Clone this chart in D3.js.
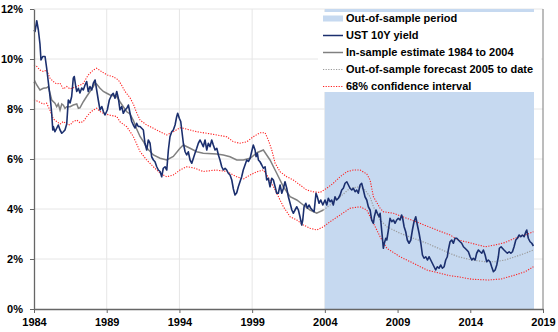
<!DOCTYPE html>
<html>
<head>
<meta charset="utf-8">
<script src="https://cdn.jsdelivr.net/npm/d3@7"></script>
<style>
  body { margin: 0; background: #fff; }
  svg text { font-family: "Liberation Sans", Arial, sans-serif; font-weight: bold; fill: #000; }
  .axis path, .axis line { stroke: #666; }
  .grid line { stroke: #e6e6e6; }
</style>
</head>
<body>
<div id="chart"></div>
<script>
// UST 10Y yield, [year, %]
var ust10y = [
  [1984.00, 11.16], [1984.07, 11.10], [1984.19, 11.53], [1984.30, 11.16], [1984.41, 10.60], [1984.48, 9.96],
  [1984.60, 10.10], [1984.76, 10.10], [1984.87, 9.64], [1984.98, 9.10], [1985.05, 8.76], [1985.15, 8.24],
  [1985.22, 7.80], [1985.29, 7.16], [1985.33, 7.30], [1985.44, 7.09], [1985.56, 7.23], [1985.67, 7.36],
  [1985.79, 7.16], [1985.91, 7.03], [1986.02, 7.09], [1986.13, 7.16], [1986.25, 7.40], [1986.36, 8.36],
  [1986.48, 8.24], [1986.59, 8.50], [1986.70, 9.23], [1986.77, 9.30], [1986.87, 8.90], [1986.94, 8.70],
  [1987.05, 8.83], [1987.16, 8.64], [1987.28, 8.84], [1987.39, 8.76], [1987.51, 8.96], [1987.62, 9.10],
  [1987.73, 8.70], [1987.85, 8.90], [1987.97, 8.76], [1988.08, 9.03], [1988.20, 9.16], [1988.31, 8.76],
  [1988.42, 8.36], [1988.54, 7.96], [1988.66, 8.10], [1988.77, 7.90], [1988.88, 7.76], [1989.04, 7.96],
  [1989.18, 8.36], [1989.34, 8.56], [1989.45, 8.63], [1989.57, 8.43], [1989.69, 8.70], [1989.80, 8.43],
  [1989.91, 7.96], [1990.03, 8.10], [1990.14, 7.83], [1990.26, 7.96], [1990.38, 8.03], [1990.49, 8.16],
  [1990.60, 7.84], [1990.72, 7.50], [1990.83, 7.36], [1990.95, 7.24], [1991.06, 7.43], [1991.17, 7.30],
  [1991.29, 7.30], [1991.52, 7.16], [1991.63, 6.63], [1991.75, 6.36], [1991.86, 6.76], [1991.98, 6.63],
  [1992.09, 6.09], [1992.21, 5.96], [1992.32, 5.89], [1992.44, 5.69], [1992.55, 5.56], [1992.67, 5.50],
  [1992.78, 5.29], [1992.89, 5.63], [1993.01, 5.69], [1993.13, 5.56], [1993.24, 6.36], [1993.35, 6.89],
  [1993.47, 7.09], [1993.58, 7.16], [1993.70, 7.36], [1993.81, 7.69], [1993.88, 7.83], [1993.99, 7.63],
  [1994.09, 7.50], [1994.16, 7.16], [1994.27, 6.63], [1994.39, 6.29], [1994.50, 6.16], [1994.61, 6.29],
  [1994.73, 5.96], [1994.85, 5.83], [1994.96, 6.03], [1995.07, 6.23], [1995.19, 6.43], [1995.30, 6.63],
  [1995.42, 6.76], [1995.53, 6.63], [1995.64, 6.49], [1995.76, 6.76], [1995.88, 6.36], [1995.99, 6.63],
  [1996.10, 6.49], [1996.22, 6.76], [1996.33, 6.56], [1996.45, 6.36], [1996.57, 6.43], [1996.68, 6.16],
  [1996.79, 5.96], [1996.91, 5.69], [1997.02, 5.56], [1997.14, 5.63], [1997.25, 5.56], [1997.36, 5.43],
  [1997.48, 5.36], [1997.60, 5.16], [1997.71, 4.80], [1997.82, 4.56], [1997.94, 4.65], [1998.05, 4.89],
  [1998.28, 5.29], [1998.39, 5.56], [1998.51, 5.76], [1998.63, 5.96], [1998.74, 5.90], [1998.86, 6.03],
  [1998.97, 6.30], [1999.08, 6.56], [1999.20, 6.36], [1999.27, 6.09], [1999.36, 6.23], [1999.43, 5.96],
  [1999.54, 5.89], [1999.66, 5.76], [1999.77, 5.63], [1999.89, 5.69], [2000.00, 5.16], [2000.11, 5.23],
  [2000.23, 4.89], [2000.35, 5.23], [2000.46, 5.16], [2000.58, 4.89], [2000.69, 4.63], [2000.80, 4.63],
  [2000.92, 4.96], [2001.04, 4.63], [2001.15, 4.83], [2001.26, 5.09], [2001.38, 4.83], [2001.49, 4.49],
  [2001.61, 4.23], [2001.73, 3.96], [2001.83, 3.83], [2001.95, 3.96], [2002.07, 4.09], [2002.18, 3.96],
  [2002.29, 3.69], [2002.41, 3.36], [2002.48, 3.56], [2002.57, 4.09], [2002.69, 4.23], [2002.80, 4.03],
  [2002.91, 4.16], [2003.03, 4.03], [2003.14, 3.96], [2003.26, 3.89], [2003.33, 4.29], [2003.39, 4.63],
  [2003.48, 4.49], [2003.60, 4.23], [2003.72, 4.36], [2003.86, 4.16], [2004.01, 4.36], [2004.13, 4.16],
  [2004.24, 4.43], [2004.36, 4.29], [2004.47, 4.36], [2004.58, 4.16], [2004.70, 4.49], [2004.81, 4.36],
  [2004.93, 4.43], [2005.05, 4.56], [2005.16, 4.76], [2005.27, 4.83], [2005.39, 5.03], [2005.51, 5.09],
  [2005.62, 4.96], [2005.73, 4.83], [2005.85, 4.76], [2005.96, 4.83], [2006.08, 4.69], [2006.19, 4.76],
  [2006.30, 4.63], [2006.42, 4.96], [2006.53, 5.03], [2006.65, 4.76], [2006.76, 4.49], [2006.88, 4.36],
  [2006.99, 4.09], [2007.11, 3.96], [2007.22, 3.56], [2007.34, 3.43], [2007.40, 3.69], [2007.52, 3.96],
  [2007.61, 3.83], [2007.73, 3.69], [2007.80, 3.83], [2007.86, 3.43], [2007.95, 2.89], [2008.02, 2.43],
  [2008.09, 2.63], [2008.19, 2.83], [2008.26, 2.76], [2008.37, 3.16], [2008.48, 3.63], [2008.60, 3.49],
  [2008.71, 3.56], [2008.83, 3.43], [2008.94, 3.56], [2009.05, 3.63], [2009.17, 3.56], [2009.28, 3.76],
  [2009.35, 3.63], [2009.45, 3.29], [2009.56, 3.09], [2009.67, 2.76], [2009.79, 2.63], [2009.91, 2.76],
  [2010.02, 3.16], [2010.13, 3.49], [2010.25, 3.69], [2010.36, 3.36], [2010.48, 3.03], [2010.60, 2.63],
  [2010.71, 2.16], [2010.82, 2.03], [2010.94, 2.09], [2011.05, 1.96], [2011.17, 2.09], [2011.28, 1.96],
  [2011.39, 1.83], [2011.51, 1.69], [2011.62, 1.56], [2011.73, 1.69], [2011.85, 1.63], [2011.97, 1.76],
  [2012.08, 1.63], [2012.20, 1.69], [2012.31, 1.96], [2012.42, 2.09], [2012.49, 2.36], [2012.61, 2.69],
  [2012.72, 2.76], [2012.84, 2.63], [2012.95, 2.83], [2013.07, 2.83], [2013.18, 2.76], [2013.30, 2.69],
  [2013.41, 2.63], [2013.53, 2.49], [2013.64, 2.43], [2013.76, 2.36], [2013.87, 2.29], [2013.99, 2.09],
  [2014.10, 1.96], [2014.21, 2.03], [2014.33, 1.96], [2014.44, 2.23], [2014.56, 2.36], [2014.68, 2.29],
  [2014.79, 2.23], [2014.90, 2.36], [2015.02, 2.16], [2015.13, 1.89], [2015.24, 1.96], [2015.36, 1.89],
  [2015.47, 1.69], [2015.59, 1.49], [2015.71, 1.56], [2015.82, 1.76], [2015.93, 2.09], [2016.00, 2.43],
  [2016.12, 2.49], [2016.21, 2.43], [2016.32, 2.36], [2016.44, 2.29], [2016.55, 2.23], [2016.67, 2.29],
  [2016.79, 2.23], [2016.90, 2.29], [2017.01, 2.49], [2017.13, 2.76], [2017.24, 2.83], [2017.36, 2.96],
  [2017.47, 2.89], [2017.58, 2.96], [2017.70, 2.89], [2017.82, 3.09], [2017.88, 3.16], [2017.99, 2.83],
  [2018.11, 2.69], [2018.23, 2.63], [2018.34, 2.52]
];

// in-sample model estimate 1984-2004
var inSample = [
  [1984.00, 9.03], [1984.07, 9.10], [1984.19, 8.96], [1984.41, 8.76], [1984.64, 8.83], [1984.87, 8.85],
  [1984.98, 8.90], [1985.10, 8.63], [1985.22, 8.36], [1985.44, 8.23], [1985.56, 8.09], [1985.67, 8.20],
  [1985.79, 7.96], [1985.91, 8.20], [1986.02, 8.15], [1986.13, 8.03], [1986.25, 8.09], [1986.48, 8.09],
  [1986.70, 8.16], [1986.94, 8.20], [1987.05, 8.03], [1987.16, 8.05], [1987.39, 8.29], [1987.62, 8.50],
  [1987.85, 8.70], [1988.08, 8.90], [1988.20, 9.03], [1988.31, 9.00], [1988.54, 8.83], [1988.77, 8.70],
  [1989.00, 8.63], [1989.23, 8.56], [1989.45, 8.53], [1989.69, 8.50], [1989.91, 8.29], [1990.14, 8.09],
  [1990.38, 7.89], [1990.60, 7.80], [1990.83, 7.55], [1991.06, 7.20], [1991.29, 6.90], [1991.52, 6.70],
  [1991.75, 6.45], [1992.21, 6.16], [1992.67, 6.03], [1993.13, 5.96], [1993.58, 6.10], [1994.04, 6.43],
  [1994.27, 6.56], [1994.73, 6.43], [1995.19, 6.29], [1995.64, 6.23], [1996.57, 6.20], [1997.02, 6.16],
  [1997.48, 6.09], [1997.94, 5.96], [1998.39, 5.96], [1998.86, 6.03], [1999.32, 6.25], [1999.77, 6.36],
  [2000.23, 5.96], [2000.69, 5.43], [2001.15, 4.89], [2001.61, 4.49], [2002.07, 4.36], [2002.52, 4.16],
  [2002.98, 3.96], [2003.44, 3.83], [2003.90, 3.96]
];

// out-of-sample forecast
var forecast = [
  [2003.90, 3.96], [2004.36, 4.16], [2005.05, 4.49], [2005.73, 4.83], [2006.42, 4.89], [2006.76, 4.76],
  [2007.11, 4.49], [2007.34, 4.09], [2007.80, 3.56], [2008.26, 3.29], [2009.17, 3.03], [2010.09, 2.83],
  [2011.01, 2.63], [2011.92, 2.40], [2012.61, 2.22], [2013.18, 2.09], [2014.10, 1.96], [2015.02, 1.89],
  [2015.71, 1.89], [2016.39, 1.96], [2017.08, 2.09], [2017.77, 2.23], [2018.34, 2.36]
];

// 68% confidence band
var ciUpper = [
  [1984.00, 9.76], [1984.19, 9.70], [1984.41, 9.56], [1984.64, 9.50], [1984.87, 9.56], [1985.10, 9.23],
  [1985.33, 9.10], [1985.56, 9.00], [1985.79, 9.03], [1986.02, 8.80], [1986.25, 8.90], [1986.48, 8.80],
  [1986.70, 8.85], [1986.94, 8.90], [1987.16, 8.95], [1987.39, 9.03], [1987.73, 9.36], [1988.08, 9.56],
  [1988.31, 9.63], [1988.66, 9.49], [1989.04, 9.36], [1989.45, 9.29], [1989.80, 9.16], [1990.03, 8.95],
  [1990.26, 8.70], [1990.60, 8.45], [1990.83, 8.20], [1991.06, 7.85], [1991.29, 7.56], [1991.75, 7.36],
  [1992.21, 7.23], [1992.67, 7.09], [1993.13, 6.96], [1993.58, 7.09], [1994.04, 7.25], [1994.27, 7.23],
  [1994.73, 7.16], [1995.19, 7.09], [1995.88, 7.03], [1996.57, 6.96], [1997.25, 6.89], [1997.71, 6.69],
  [1998.16, 6.63], [1998.63, 6.69], [1999.08, 6.89], [1999.54, 7.05], [1999.89, 7.05], [2000.11, 6.76],
  [2000.35, 6.36], [2000.58, 5.83], [2000.92, 5.49], [2001.38, 5.29], [2001.83, 5.16], [2002.29, 4.96],
  [2002.75, 4.76], [2003.20, 4.69], [2003.67, 4.66], [2004.13, 4.83], [2004.58, 5.03], [2005.05, 5.29],
  [2005.51, 5.49], [2005.96, 5.56], [2006.42, 5.56], [2006.88, 5.40], [2007.11, 5.16], [2007.34, 4.49],
  [2007.80, 4.03], [2008.02, 3.89], [2008.71, 3.83], [2009.63, 3.63], [2010.54, 3.43], [2011.69, 3.16],
  [2012.61, 2.96], [2013.18, 2.76], [2014.10, 2.63], [2015.02, 2.49], [2015.71, 2.56], [2016.39, 2.66],
  [2017.08, 2.83], [2017.77, 2.96], [2018.34, 3.09]
];

var ciLower = [
  [1984.00, 8.36], [1984.30, 8.30], [1984.64, 8.20], [1984.87, 8.23], [1985.10, 7.95], [1985.33, 7.60],
  [1985.56, 7.50], [1985.79, 7.40], [1986.02, 7.50], [1986.25, 7.40], [1986.48, 7.36], [1986.70, 7.50],
  [1986.94, 7.56], [1987.16, 7.45], [1987.39, 7.50], [1987.62, 7.69], [1987.85, 7.85], [1988.08, 7.96],
  [1988.31, 8.03], [1988.54, 7.90], [1988.77, 7.83], [1989.23, 7.75], [1989.69, 7.70], [1989.91, 7.49],
  [1990.38, 7.29], [1990.60, 7.10], [1990.83, 6.90], [1991.06, 6.60], [1991.29, 6.30], [1991.75, 5.96],
  [1992.21, 5.69], [1992.67, 5.43], [1993.13, 5.29], [1993.58, 5.36], [1994.04, 5.56], [1994.50, 5.69],
  [1994.96, 5.65], [1995.64, 5.50], [1996.50, 5.56], [1997.25, 5.50], [1997.94, 5.29], [1998.40, 5.20],
  [1998.86, 5.36], [1999.32, 5.49], [1999.77, 5.56], [2000.23, 5.16], [2000.69, 4.63], [2001.15, 4.09],
  [2001.61, 3.69], [2002.07, 3.56], [2002.52, 3.36], [2002.98, 3.23], [2003.44, 3.16], [2003.90, 3.29],
  [2004.36, 3.49], [2005.05, 3.76], [2005.73, 4.03], [2006.42, 4.09], [2006.88, 3.96], [2007.11, 3.70],
  [2007.34, 3.43], [2007.80, 2.89], [2008.26, 2.43], [2009.17, 2.09], [2010.09, 1.83], [2011.01, 1.56],
  [2011.92, 1.43], [2012.61, 1.33], [2013.18, 1.29], [2014.10, 1.19], [2015.24, 1.16], [2016.12, 1.20],
  [2017.08, 1.36], [2017.77, 1.49], [2018.34, 1.69]
];

var shadeFrom = 2004.0, shadeTo = 2018.38;
var yTicks = [0, 2, 4, 6, 8, 10, 12];
var xTicks = [1984, 1989, 1994, 1999, 2004, 2009, 2014, 2019];
var legendLabels = ["Out-of-sample period", "UST 10Y yield", "In-sample estimate 1984 to 2004",
  "Out-of-sample forecast 2005 to date", "68% confidence interval"];

var svgWidth = 558, svgHeight = 332;
var margin = { top: 9, right: 15, bottom: 23, left: 34 };
var width = svgWidth - margin.left - margin.right;
var height = svgHeight - margin.top - margin.bottom;

var svg = d3.select("#chart").append("svg")
  .attr("width", svgWidth)
  .attr("height", svgHeight);

var chartGroup = svg.append("g")
  .attr("transform", `translate(${margin.left}, ${margin.top})`);

var x = d3.scaleLinear().domain([1984, 2019]).range([0, width]);
var y = d3.scaleLinear().domain([0, 12]).range([height, 0]);

// gridlines
var grid = chartGroup.append("g").attr("class", "grid");
grid.selectAll(".hg").data(yTicks.slice(1)).enter().append("line")
  .attr("x1", 0).attr("x2", width)
  .attr("y1", d => y(d)).attr("y2", d => y(d));
grid.selectAll(".vg").data(xTicks.slice(1, -1)).enter().append("line")
  .attr("x1", d => x(d)).attr("x2", d => x(d))
  .attr("y1", 0).attr("y2", height);

// out-of-sample shading
chartGroup.append("rect")
  .attr("x", x(shadeFrom))
  .attr("y", 0)
  .attr("width", x(shadeTo) - x(shadeFrom))
  .attr("height", height)
  .attr("fill", "#c6d9f0");

var line = d3.line().x(d => x(d[0])).y(d => y(d[1]));

chartGroup.append("path").datum(ciUpper)
  .attr("d", line).attr("fill", "none")
  .attr("stroke", "#ff2020").attr("stroke-width", 1.1).attr("stroke-dasharray", "1.2,1.4");
chartGroup.append("path").datum(ciLower)
  .attr("d", line).attr("fill", "none")
  .attr("stroke", "#ff2020").attr("stroke-width", 1.1).attr("stroke-dasharray", "1.2,1.4");
chartGroup.append("path").datum(forecast)
  .attr("d", line).attr("fill", "none")
  .attr("stroke", "#9a9a9a").attr("stroke-width", 1.2).attr("stroke-dasharray", "1.2,1.4");
chartGroup.append("path").datum(inSample)
  .attr("d", line).attr("fill", "none")
  .attr("stroke", "#808080").attr("stroke-width", 1.5);
chartGroup.append("path").datum(ust10y)
  .attr("d", line).attr("fill", "none")
  .attr("stroke", "#1b2f6e").attr("stroke-width", 1.6)
  .attr("stroke-linejoin", "round");

// axes
var leftAxis = d3.axisLeft(y).tickValues(yTicks).tickFormat(d => d + "%")
  .tickSize(4).tickPadding(7).tickSizeOuter(0);
var bottomAxis = d3.axisBottom(x).tickValues(xTicks).tickFormat(d => d)
  .tickSize(4).tickPadding(5).tickSizeOuter(0);

chartGroup.append("g").attr("class", "axis")
  .call(leftAxis)
  .selectAll("text").style("font-size", "11px");
chartGroup.append("g").attr("class", "axis")
  .attr("transform", `translate(0, ${height})`)
  .call(bottomAxis)
  .selectAll("text").style("font-size", "11px");
chartGroup.selectAll(".axis path").attr("stroke-width", 1.3);

// right frame edge
chartGroup.append("line")
  .attr("x1", width).attr("x2", width).attr("y1", 0).attr("y2", height)
  .attr("stroke", "#7a7a7a").attr("stroke-width", 1);

// legend
var legend = chartGroup.append("g").attr("transform", "translate(284, 3)");
legend.append("rect")
  .attr("x", 0).attr("y", 0).attr("width", 223).attr("height", 80)
  .attr("fill", "#fff");

var rowH = 17, rowY0 = 6.5;
legend.append("rect")
  .attr("x", 5).attr("y", rowY0 - 3).attr("width", 20).attr("height", 6)
  .attr("fill", "#c6d9f0");
var styles = [
  { stroke: "#1b2f6e", w: 1.5, dash: null },
  { stroke: "#808080", w: 1.5, dash: null },
  { stroke: "#9a9a9a", w: 1.2, dash: "1.2,1.4" },
  { stroke: "#ff2020", w: 1.1, dash: "1.2,1.4" }
];
styles.forEach(function(s, i) {
  var yy = rowY0 + (i + 1) * rowH;
  legend.append("line")
    .attr("x1", 5).attr("x2", 25).attr("y1", yy).attr("y2", yy)
    .attr("stroke", s.stroke).attr("stroke-width", s.w)
    .attr("stroke-dasharray", s.dash);
});
legend.selectAll(".lbl").data(legendLabels).enter().append("text")
  .attr("x", 28)
  .attr("y", (d, i) => rowY0 + i * rowH)
  .attr("dy", "0.35em")
  .style("font-size", "11px")
  .text(d => d);
</script>
</body>
</html>
